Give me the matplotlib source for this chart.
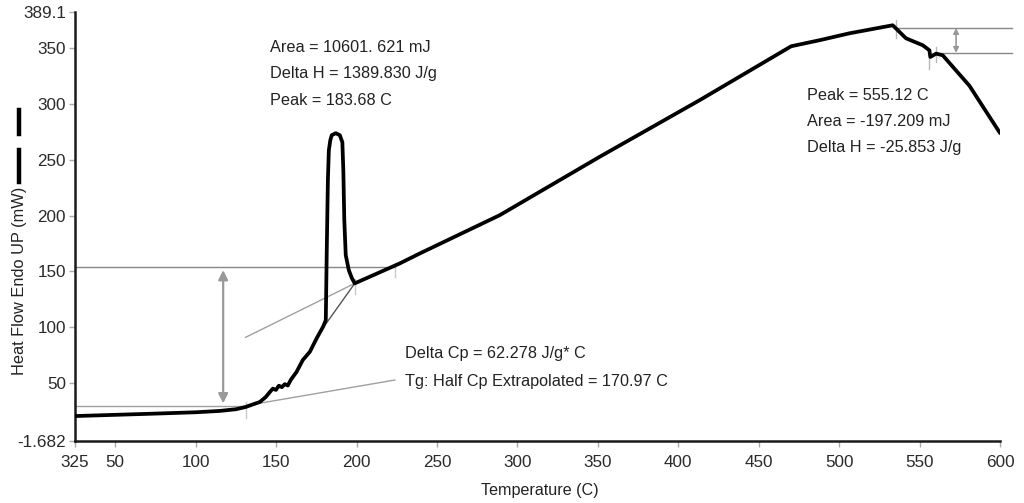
"""
DSC thermogram: heat flow vs temperature with Tg step and melt / decomposition peaks.
Saves out.png.
"""
import matplotlib
matplotlib.use("Agg")
import matplotlib.pyplot as plt
from matplotlib.lines import Line2D

# measured trace (temperature in C, heat flow in mW)
temp = [25, 50, 75, 100, 115, 125, 131.0, 135.5, 139.9, 143.6, 146.1, 148.0,
        149.9, 151.7, 153.6, 155.4, 157.3, 159.2, 162.7, 166.6, 171.0, 175.3,
        179.2, 180.9, 181.5, 182.2, 182.8, 183.7, 184.6, 187.1, 189.6, 191.2,
        191.8, 192.4, 193.3, 195.2, 197.1, 198.9, 226.9, 239.3, 289.0, 351.1,
        413.2, 470.2, 487.8, 506.4, 533.3, 541.6, 552.0, 556.1, 556.7, 560.3,
        564.4, 581.0, 600.0]
heat_flow = [20.4, 21.5, 22.6, 23.8, 25.0, 26.5, 28.5, 30.8, 33.0, 37.5, 41.9, 45.0,
             43.8, 47.6, 46.3, 49.0, 47.8, 53.0, 59.9, 70.6, 78.0, 90.3,
             100.4, 106.4, 169.1, 231.8, 258.6, 267.6, 272.1, 273.9, 272.1, 265.8,
             240.7, 196.0, 164.6, 151.2, 144.0, 139.3, 157.2, 166.1, 200.4, 252.7,
             303.4, 351.8, 357.2, 363.4, 370.6, 358.9, 352.7, 348.2, 342.2, 345.2,
             343.7, 316.4, 274.0]

# analysis construction lines
tg_onset_tangent_x = [131.0, 198.9]
tg_onset_tangent_y = [90.9, 139.3]
tg_step_tangent_x = [177.0, 198.9]
tg_step_tangent_y = [95.0, 139.3]
tg_base_tangent_x = [131.0, 223.8]
tg_base_tangent_y = [29.7, 52.7]
cp_upper_y = 154.1
cp_upper_x_end = 224.2
cp_lower_y = 29.4
cp_lower_x_end = 131.0
cp_arrow_x = 117.1
cp_arrow_y = [31.8, 151.2]
tg_marks_x = [131.0, 198.9, 224.2]
tg_marks_y = [(18.4, 33.3), (129.7, 143.1), (145.0, 157.5)]

dec_upper_y = 368.2
dec_lower_y = 345.8
dec_upper_x = [535.4, 607.7]
dec_lower_x = [560.3, 607.7]
dec_arrow_x = 572.7
dec_marks_x = [535.4, 560.3, 556.1]
dec_marks_y = [(358.9, 375.1), (337.7, 351.2), (331.8, 346.7)]

# axis: the instrument prints 389.1 at the top of its scale
y_bottom, y_top = -1.682, 382.5
x_ticks = [25, 50, 100, 150, 200, 250, 300, 350, 400, 450, 500, 550, 600]
x_tick_labels = ["325", "50", "100", "150", "200", "250", "300", "350", "400",
                 "450", "500", "550", "600"]
y_ticks = [y_bottom, 50, 100, 150, 200, 250, 300, 350, y_top]
y_tick_labels = ["-1.682", "50", "100", "150", "200", "250", "300", "350", "389.1"]

melt_text = ["Area = 10601. 621 mJ", "Delta H = 1389.830 J/g", "Peak = 183.68 C"]
dec_text = ["Peak = 555.12 C", "Area = -197.209 mJ", "Delta H = -25.853 J/g"]
tg_text = ["Delta Cp = 62.278 J/g* C", "Tg: Half Cp Extrapolated = 170.97 C"]

W, H = 1024, 503
FONT = "Liberation Sans"


def fx(px):
    return px / W


def fy(py):
    return 1 - py / H


fig = plt.figure(figsize=(W / 100, H / 100), dpi=100)
ax = fig.add_axes([fx(75), fy(440.7), fx(925), (440.7 - 12) / H])
ax.set_xlim(25, 600)
ax.set_ylim(y_bottom, y_top)

light = "#a0a0a0"
mid = "#888888"

# construction lines
ax.plot([25, cp_upper_x_end], [cp_upper_y, cp_upper_y], color=mid, lw=1.0)
ax.plot([25, cp_lower_x_end], [cp_lower_y, cp_lower_y], color=light, lw=1.0)
ax.plot(tg_onset_tangent_x, tg_onset_tangent_y, color=light, lw=1.0)
ax.plot(tg_step_tangent_x, tg_step_tangent_y, color="#555555", lw=1.0)
ax.plot(tg_base_tangent_x, tg_base_tangent_y, color=light, lw=1.0)
for x, (y0, y1) in zip(tg_marks_x, tg_marks_y):
    ax.plot([x, x], [y0, y1], color="#c8c8c8", lw=1.0)
ax.annotate("", xy=(cp_arrow_x, cp_arrow_y[0]), xytext=(cp_arrow_x, cp_arrow_y[1]),
            arrowprops=dict(arrowstyle="<|-|>", color="#999999", lw=1.6,
                            mutation_scale=14, shrinkA=0, shrinkB=0))

ax.plot(dec_upper_x, [dec_upper_y, dec_upper_y], color=mid, lw=1.0, clip_on=False)
ax.plot(dec_lower_x, [dec_lower_y, dec_lower_y], color=mid, lw=1.0, clip_on=False)
for x, (y0, y1) in zip(dec_marks_x, dec_marks_y):
    ax.plot([x, x], [y0, y1], color="#b8b8b8", lw=1.0)
ax.annotate("", xy=(dec_arrow_x, dec_lower_y), xytext=(dec_arrow_x, dec_upper_y),
            arrowprops=dict(arrowstyle="<|-|>", color="#999999", lw=1.2,
                            mutation_scale=8, shrinkA=0, shrinkB=0))

# the trace
ax.plot(temp, heat_flow, color="black", lw=2.7, solid_joinstyle="round",
        solid_capstyle="round", zorder=5)

for s in ["top", "right"]:
    ax.spines[s].set_visible(False)
for s in ["left", "bottom"]:
    ax.spines[s].set_linewidth(1.8)
    ax.spines[s].set_color("#1a1a1a")

ax.set_xticks(x_ticks)
ax.set_xticklabels(x_tick_labels, fontfamily=FONT, fontsize=12.3, color="#2a2a2a")
ax.set_yticks(y_ticks)
ax.set_yticklabels(y_tick_labels, fontfamily=FONT, fontsize=12.3, color="#2a2a2a")
ax.tick_params(axis="x", direction="out", length=4, width=1, color="#aaaaaa", pad=6)
ax.tick_params(axis="y", direction="out", length=4, width=1, color="#aaaaaa", pad=2.5)

# text blocks
TXT_SIZE = 11.7
for txt, base in zip(melt_text, [52.3, 78.3, 105.0]):
    fig.text(fx(270), fy(base), txt, fontfamily=FONT, fontsize=TXT_SIZE,
             color="#222222", va="baseline", ha="left")
for txt, base in zip(dec_text, [100.0, 126.0, 151.7]):
    fig.text(fx(806.7), fy(base), txt, fontfamily=FONT, fontsize=TXT_SIZE,
             color="#222222", va="baseline", ha="left")
for txt, base in zip(tg_text, [358.3, 386.0]):
    fig.text(fx(405), fy(base), txt, fontfamily=FONT, fontsize=TXT_SIZE,
             color="#222222", va="baseline", ha="left")

fig.text(fx(540), fy(495), "Temperature (C)", fontfamily=FONT, fontsize=11.6,
         color="#222222", va="baseline", ha="center")
fig.text(fx(20), fy(280.5), "Heat Flow Endo UP (mW)", fontfamily=FONT, fontsize=11.8,
         color="#222222", va="center", ha="center", rotation=90)
fig.add_artist(Line2D([fx(18.7), fx(18.7)], [fy(110), fy(134)], lw=3.2, color="black"))
fig.add_artist(Line2D([fx(18.7), fx(18.7)], [fy(150), fy(182)], lw=3.2, color="black"))

fig.savefig("out.png", dpi=100, facecolor="white")
